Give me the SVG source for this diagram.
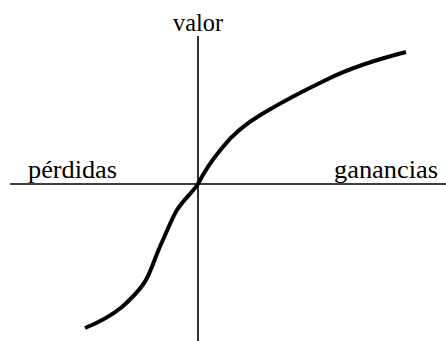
<svg xmlns="http://www.w3.org/2000/svg" width="446" height="341" viewBox="0 0 446 341">
<style>
.lbl{font-family:"Liberation Serif","Times New Roman",serif;font-size:25px;fill:#000}
.axis{stroke:#000;stroke-width:1.6;fill:none}
.curve{stroke:#000;stroke-width:4;fill:none;stroke-linecap:butt;stroke-linejoin:round}
</style>
<rect width="446" height="341" fill="#fff"/>
<g id="axes">
<line class="axis" x1="198" y1="36" x2="198" y2="341"/>
<line class="axis" x1="10" y1="184" x2="446" y2="184"/>
</g>
<g id="labels">
<text class="lbl" x="198" y="31" text-anchor="middle" textLength="50" lengthAdjust="spacingAndGlyphs">valor</text>
<text class="lbl" x="28" y="177.5" textLength="89" lengthAdjust="spacingAndGlyphs">pérdidas</text>
<text class="lbl" x="334" y="177.5" textLength="104" lengthAdjust="spacingAndGlyphs">ganancias</text>
</g>
<g id="curve">
<path class="curve" d="M85,328 C100,322 112,315 122,307 C132,298 142,288 147,278 C152,268 156,255 162,242 C168,229 172,218 177,210 C183,200 192,193 198,184 C204,172 212,160 222,148 C232,135 245,124 262,114 C282,102 305,90 328,79 C350,68 375,60 406,52"/>
</g>
</svg>
